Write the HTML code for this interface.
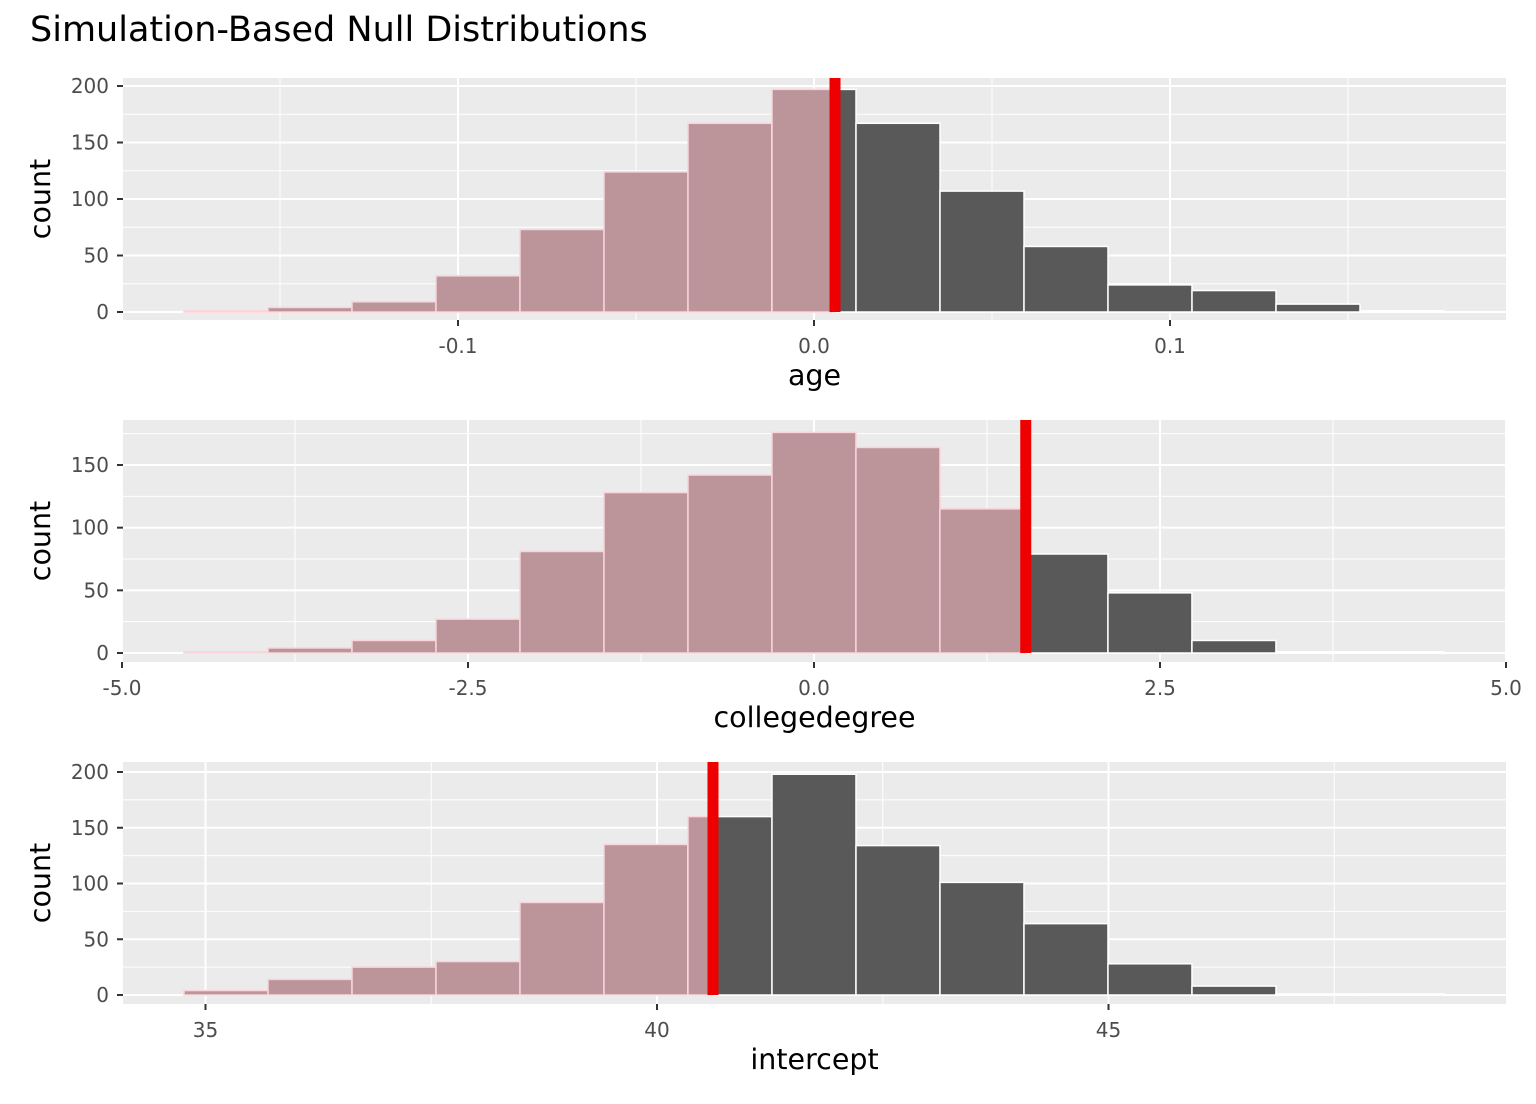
<!DOCTYPE html>
<html><head><meta charset="utf-8">
<style>
body{margin:0;background:#fff;}
svg{display:block;font-family:"DejaVu Sans","Liberation Sans",sans-serif;}
</style></head>
<body>
<svg id="chart" width="1536" height="1104" xmlns="http://www.w3.org/2000/svg">
<text x="30" y="41" font-size="35" fill="#000">Simulation-Based Null Distributions</text>
</svg>
<script>
// Panel 1: age
const ageCounts = [1,4,9,32,73,124,167,197,167,107,58,24,19,7,1];
const ageBinStart = -0.17697;
const ageBinWidth = 0.023596;
const ageObs = 0.0059;
const ageXTicks = [-0.1, 0.0, 0.1];
const ageXTickLabels = ["-0.1","0.0","0.1"];
const ageYTicks = [0,50,100,150,200];
// Panel 2: collegedegree
const cdCounts = [1,4,10,27,81,128,142,176,164,115,79,48,10,1,1];
const cdBinStart = -4.552;
const cdBinWidth = 0.6069;
const cdObs = 1.53;
const cdXTicks = [-5,-2.5,0,2.5,5];
const cdXTickLabels = ["-5.0","-2.5","0.0","2.5","5.0"];
const cdYTicks = [0,50,100,150];
// Panel 3: intercept
const icCounts = [4,14,25,30,83,135,160,198,134,101,64,28,8,1,1];
const icBinStart = 34.762;
const icBinWidth = 0.9302;
const icObs = 40.62;
const icXTicks = [35,40,45];
const icXTickLabels = ["35","40","45"];
const icYTicks = [0,50,100,150,200];

const NS = "http://www.w3.org/2000/svg";
const svg = document.getElementById('chart');
function mk(tag, attrs, parent){
  const e = document.createElementNS(NS, tag);
  for (const k in attrs) e.setAttribute(k, attrs[k]);
  (parent||svg).appendChild(e);
  return e;
}

function panel(cfg){
  const {name, counts, binStart, binWidth, obs, xTicks, xLabels, yTicks, xToPx, yToPx, top, bottom, left, right, xTitle} = cfg;
  const g = mk('g', {});
  
  
  const bg = mk('rect', {x:left, y:top, width:right-left, height:bottom-top, fill:'#ebebeb'}, g);
  
  
  for (let i=0;i<yTicks.length-1;i++){
    const y = yToPx((yTicks[i]+yTicks[i+1])/2);
    mk('line',{x1:left,x2:right,y1:y,y2:y,stroke:'#fff','stroke-width':1},g);
  }
  const lastY = yTicks[yTicks.length-1], step = yTicks[1]-yTicks[0];
  if (yToPx(lastY+step/2) > top) { const y=yToPx(lastY+step/2); mk('line',{x1:left,x2:right,y1:y,y2:y,stroke:'#fff','stroke-width':1},g); }
  const xs = xTicks.slice();
  const xstep = xs[1]-xs[0];
  const ext = [xs[0]-xstep, ...xs, xs[xs.length-1]+xstep];
  for (let i=0;i<ext.length-1;i++){
    const x = xToPx((ext[i]+ext[i+1])/2);
    if (x>left && x<right) mk('line',{x1:x,x2:x,y1:top,y2:bottom,stroke:'#fff','stroke-width':1},g);
  }
  yTicks.forEach(t=>{const y=yToPx(t); mk('line',{x1:left,x2:right,y1:y,y2:y,stroke:'#fff','stroke-width':2},g);});
  xTicks.forEach(t=>{const x=xToPx(t); mk('line',{x1:x,x2:x,y1:top,y2:bottom,stroke:'#fff','stroke-width':2},g);});
  const obsPx = xToPx(obs);
  counts.forEach((c,i)=>{
    const x0 = xToPx(binStart + i*binWidth), x1 = xToPx(binStart + (i+1)*binWidth);
    const y = yToPx(c), h = yToPx(0)-y;
    let r;
    if (x1 <= obsPx){
      r = mk('rect',{x:x0,y:y,width:x1-x0,height:h,fill:'#bc959b',stroke:'#fbd3da','stroke-width':1.5},g);
    } else if (x0 >= obsPx){
      r = mk('rect',{x:x0,y:y,width:x1-x0,height:h,fill:'#595959',stroke:'#fff','stroke-width':1.5},g);
    } else {
      r = mk('rect',{x:x0,y:y,width:x1-x0,height:h,fill:'#595959',stroke:'#fff','stroke-width':1.5},g);
      const p = mk('rect',{x:x0,y:y,width:obsPx-x0,height:h,fill:'#bc959b',stroke:'#fbd3da','stroke-width':1.5},g);
      
      
    }
    
    
  });
  const ol = mk('rect',{x:obsPx-5.5,y:top,width:11,height:yToPx(0)-top,fill:'#ee0000'},g);
  
  
  yTicks.forEach(t=>{
    const y=yToPx(t);
    mk('line',{x1:left-6,x2:left,y1:y,y2:y,stroke:'#333','stroke-width':2},g);
    const tx = mk('text',{x:left-14,y:y+7,'font-size':20,fill:'#4d4d4d','text-anchor':'end'},g);
    tx.textContent = t;
    
    
  });
  xTicks.forEach((t,i)=>{
    const x=xToPx(t);
    mk('line',{x1:x,x2:x,y1:bottom,y2:bottom+6,stroke:'#333','stroke-width':2},g);
    const tx = mk('text',{x:x,y:bottom+33,'font-size':20,fill:'#4d4d4d','text-anchor':'middle'},g);
    tx.textContent = xLabels[i];
    
    
  });
  const xt = mk('text',{x:(left+right)/2,y:bottom+65,'font-size':28.5,fill:'#000','text-anchor':'middle'},g);
  xt.textContent = xTitle;
  
  
  const cy = (top+bottom)/2;
  const yt = mk('text',{x:50,y:cy,'font-size':28.5,fill:'#000','text-anchor':'middle',transform:`rotate(-90 50 ${cy})`},g);
  yt.textContent = 'count';
  
  
}

panel({name:'age', counts:ageCounts, binStart:ageBinStart, binWidth:ageBinWidth, obs:ageObs,
  xTicks:ageXTicks, xLabels:ageXTickLabels, yTicks:ageYTicks,
  xToPx:v=>814+v*3560, yToPx:c=>312-c*1.13, top:78, bottom:320, left:123, right:1506, xTitle:'age'});
panel({name:'collegedegree', counts:cdCounts, binStart:cdBinStart, binWidth:cdBinWidth, obs:cdObs,
  xTicks:cdXTicks, xLabels:cdXTickLabels, yTicks:cdYTicks,
  xToPx:v=>814+v*138.4, yToPx:c=>653-c*1.2533, top:420, bottom:662, left:123, right:1506, xTitle:'collegedegree'});
panel({name:'intercept', counts:icCounts, binStart:icBinStart, binWidth:icBinWidth, obs:icObs,
  xTicks:icXTicks, xLabels:icXTickLabels, yTicks:icYTicks,
  xToPx:v=>657+(v-40)*90.3, yToPx:c=>995-c*1.115, top:762, bottom:1004, left:123, right:1506, xTitle:'intercept'});
</script>
</body></html>
